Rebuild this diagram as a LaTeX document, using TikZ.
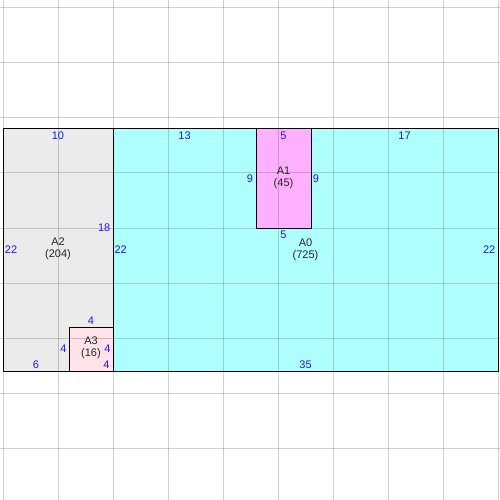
\documentclass[tikz,border=0pt]{standalone}
\usepackage{fontspec}
\setmainfont{Liberation Sans}
\usetikzlibrary{positioning}
\definecolor{fillA0}{HTML}{B0FFFF}
\definecolor{fillA1}{HTML}{FFB0FF}
\definecolor{fillA2}{HTML}{EBEBEB}
\definecolor{fillA3}{HTML}{FFE2EA}
\definecolor{numblue}{HTML}{1A1AFF}
\begin{document}
\begin{tikzpicture}[x=11pt,y=11pt,
	num/.style={text=numblue,font=\fontsize{11}{13}\selectfont,inner sep=0pt},
	tag/.style={align=center,text=black!85,font=\fontsize{11}{12.5}\selectfont,inner sep=0pt},
	gridline/.style={draw=black,opacity=0.18,line width=1pt},
	area/.style={draw=black,line width=1pt}]
	\useasboundingbox (-0.2727,-11.727) rectangle (45.1818,33.727);
	% areas
	\fill[fillA2] (0,0) rectangle (10,22);
	\fill[fillA0] (10,0) rectangle (45,22);
	\fill[fillA1] (23,13) rectangle (28,22);
	\fill[fillA3] (6,0) rectangle (10,4);
	% grid
	\foreach \gx in {0,5,...,45}
		\draw[gridline] (\gx,-11.8) -- (\gx,33.8);
	\foreach \gy in {-7,-2,...,33}
		\draw[gridline] (-0.3,\gy) -- (45.2,\gy);
	% borders
	\draw[area] (0,0) rectangle (45,22);
	\draw[area] (10,0) -- (10,22);
	\draw[area] (23,13) rectangle (28,22);
	\draw[area] (6,0) rectangle (10,4);
	% A2
	\node[tag] (a2) at (5,11.1) {A2\\(204)};
	\node[num] (a2top) at (5,21.36) {10};
	\node[num] (a2left) at (0.73,11) {22};
	\node[num] (a2right) at (9.2,13) {18};
	\node[num] (a2bot) at (3,0.55) {6};
	% A3
	\node[tag] (a3) at (8,2.1) {A3\\(16)};
	\node[num] (a3top) at (8,4.55) {4};
	\node[num] (a3left) at (5.5,2) {4};
	\node[num] (a3right) at (9.5,2) {4};
	\node[num] (a3bot) at (9.4,0.55) {4};
	% A1
	\node[tag] (a1) at (25.5,17.55) {A1\\(45)};
	\node[num] (a1top) at (25.5,21.36) {5};
	\node[num] (a1left) at (22.45,17.45) {9};
	\node[num] (a1right) at (28.45,17.45) {9};
	\node[num] (a1bot) at (25.5,12.36) {5};
	% A0
	\node[tag] (a0) at (27.5,11) {A0\\(725)};
	\node[num] (a0topl) at (16.5,21.36) {13};
	\node[num] (a0topr) at (36.5,21.36) {17};
	\node[num] (a0left) at (10.7,11) {22};
	\node[num] (a0right) at (44.2,11) {22};
	\node[num] (a0bot) at (27.5,0.55) {35};
\end{tikzpicture}
\end{document}
